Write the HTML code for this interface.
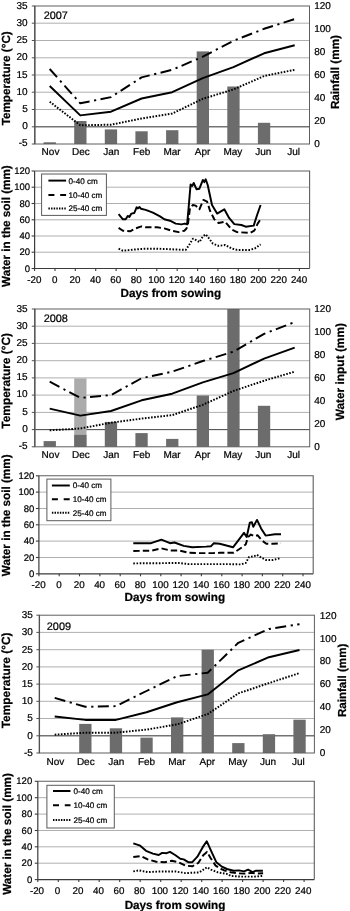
<!DOCTYPE html>
<html><head><meta charset="utf-8"><title>Figure</title>
<style>html,body{margin:0;padding:0;background:#fff}svg{display:block;filter:grayscale(1)}text{font-family:"Liberation Sans",sans-serif;fill:#000;text-rendering:geometricPrecision;stroke:#000;stroke-width:0.22px}</style>
</head><body>
<svg width="350" height="911" viewBox="0 0 350 911">
<rect width="350" height="911" fill="#fff"/>
<g id="p1">
<line x1="34.8" y1="23.2" x2="309.5" y2="23.2" stroke="#a0a0a0" stroke-width="0.85"/>
<line x1="34.8" y1="40.5" x2="309.5" y2="40.5" stroke="#a0a0a0" stroke-width="0.85"/>
<line x1="34.8" y1="57.8" x2="309.5" y2="57.8" stroke="#a0a0a0" stroke-width="0.85"/>
<line x1="34.8" y1="75.0" x2="309.5" y2="75.0" stroke="#a0a0a0" stroke-width="0.85"/>
<line x1="34.8" y1="92.2" x2="309.5" y2="92.2" stroke="#a0a0a0" stroke-width="0.85"/>
<line x1="34.8" y1="109.5" x2="309.5" y2="109.5" stroke="#a0a0a0" stroke-width="0.85"/>
<line x1="34.8" y1="126.8" x2="309.5" y2="126.8" stroke="#a0a0a0" stroke-width="0.85"/>
<line x1="34.8" y1="126.8" x2="309.5" y2="126.8" stroke="#505050" stroke-width="1"/>
<rect x="43.6" y="142.3" width="12.3" height="1.7" fill="#6c6c6c"/>
<rect x="74.2" y="121.0" width="12.3" height="23.0" fill="#6c6c6c"/>
<rect x="104.8" y="129.4" width="12.3" height="14.6" fill="#6c6c6c"/>
<rect x="135.4" y="131.3" width="12.3" height="12.7" fill="#6c6c6c"/>
<rect x="166.1" y="130.2" width="12.3" height="13.8" fill="#6c6c6c"/>
<rect x="196.7" y="51.4" width="12.3" height="92.6" fill="#6c6c6c"/>
<rect x="227.3" y="86.5" width="12.3" height="57.5" fill="#6c6c6c"/>
<rect x="257.9" y="122.8" width="12.3" height="21.2" fill="#6c6c6c"/>
<rect x="34.8" y="6.0" width="274.7" height="138.0" fill="none" stroke="#5e5e5e" stroke-width="1"/>
<line x1="34.8" y1="6.0" x2="34.8" y2="144.0" stroke="#505050" stroke-width="1.3"/>
<line x1="31.8" y1="6.0" x2="34.8" y2="6.0" stroke="#505050" stroke-width="1"/>
<text x="27.7" y="9.1" text-anchor="end" font-size="10.0">35</text>
<line x1="31.8" y1="23.2" x2="34.8" y2="23.2" stroke="#505050" stroke-width="1"/>
<text x="27.7" y="26.2" text-anchor="end" font-size="10.0">30</text>
<line x1="31.8" y1="40.5" x2="34.8" y2="40.5" stroke="#505050" stroke-width="1"/>
<text x="27.7" y="43.3" text-anchor="end" font-size="10.0">25</text>
<line x1="31.8" y1="57.8" x2="34.8" y2="57.8" stroke="#505050" stroke-width="1"/>
<text x="27.7" y="60.4" text-anchor="end" font-size="10.0">20</text>
<line x1="31.8" y1="75.0" x2="34.8" y2="75.0" stroke="#505050" stroke-width="1"/>
<text x="27.7" y="77.5" text-anchor="end" font-size="10.0">15</text>
<line x1="31.8" y1="92.2" x2="34.8" y2="92.2" stroke="#505050" stroke-width="1"/>
<text x="27.7" y="94.6" text-anchor="end" font-size="10.0">10</text>
<line x1="31.8" y1="109.5" x2="34.8" y2="109.5" stroke="#505050" stroke-width="1"/>
<text x="27.7" y="111.7" text-anchor="end" font-size="10.0">5</text>
<line x1="31.8" y1="126.8" x2="34.8" y2="126.8" stroke="#505050" stroke-width="1"/>
<text x="27.7" y="128.8" text-anchor="end" font-size="10.0">0</text>
<line x1="31.8" y1="144.0" x2="34.8" y2="144.0" stroke="#505050" stroke-width="1"/>
<text x="27.7" y="145.9" text-anchor="end" font-size="10.0">-5</text>
<text x="314.2" y="9.2" font-size="10.0">120</text>
<text x="314.2" y="32.2" font-size="10.0">100</text>
<text x="314.2" y="55.2" font-size="10.0">80</text>
<text x="314.2" y="78.2" font-size="10.0">60</text>
<text x="314.2" y="101.2" font-size="10.0">40</text>
<text x="314.2" y="124.2" font-size="10.0">20</text>
<text x="314.2" y="147.2" font-size="10.0">0</text>
<text x="50.5" y="155.3" text-anchor="middle" font-size="10.0">Nov</text>
<text x="80.9" y="155.3" text-anchor="middle" font-size="10.0">Dec</text>
<text x="111.3" y="155.3" text-anchor="middle" font-size="10.0">Jan</text>
<text x="141.7" y="155.3" text-anchor="middle" font-size="10.0">Feb</text>
<text x="172.1" y="155.3" text-anchor="middle" font-size="10.0">Mar</text>
<text x="202.5" y="155.3" text-anchor="middle" font-size="10.0">Apr</text>
<text x="232.9" y="155.3" text-anchor="middle" font-size="10.0">May</text>
<text x="263.3" y="155.3" text-anchor="middle" font-size="10.0">Jun</text>
<text x="293.7" y="155.3" text-anchor="middle" font-size="10.0">Jul</text>
<text x="43.7" y="19.0" font-size="10.9">2007</text>
<polyline points="49.7,69.0 80.3,103.3 111.0,97.1 141.6,77.4 172.2,69.8 202.8,56.7 233.4,40.8 264.1,28.8 294.7,19.1" fill="none" stroke="#000" stroke-width="1.95" stroke-dasharray="11,4.6,2.2,4.4" stroke-linejoin="round"/>
<polyline points="49.7,86.0 80.3,115.4 111.0,111.7 141.6,98.5 172.2,92.2 202.8,78.1 233.4,67.1 264.1,53.3 294.7,45.3" fill="none" stroke="#000" stroke-width="1.95" stroke-linejoin="round"/>
<polyline points="49.7,101.7 80.3,125.3 111.0,124.7 141.6,118.5 172.2,113.6 202.8,98.8 233.4,89.5 264.1,76.0 294.7,69.8" fill="none" stroke="#000" stroke-width="1.95" stroke-dasharray="1.6,1.5" stroke-linejoin="round"/>
<text transform="translate(9.5,78.3) rotate(-90)" text-anchor="middle" font-size="11.7" font-weight="bold">Temperature (°C)</text>
<text transform="translate(338.8,72.1) rotate(-90)" text-anchor="middle" font-size="11.7" font-weight="bold">Rainfall (mm)</text>
</g><g id="p2">
<line x1="34.6" y1="187.2" x2="309.6" y2="187.2" stroke="#a0a0a0" stroke-width="0.85"/>
<line x1="34.6" y1="203.5" x2="309.6" y2="203.5" stroke="#a0a0a0" stroke-width="0.85"/>
<line x1="34.6" y1="219.8" x2="309.6" y2="219.8" stroke="#a0a0a0" stroke-width="0.85"/>
<line x1="34.6" y1="236.0" x2="309.6" y2="236.0" stroke="#a0a0a0" stroke-width="0.85"/>
<line x1="34.6" y1="252.2" x2="309.6" y2="252.2" stroke="#a0a0a0" stroke-width="0.85"/>
<polyline points="34.6,171.0 309.6,171.0 309.6,268.5" fill="none" stroke="#5e5e5e" stroke-width="1.1"/>
<polyline points="34.6,171.0 34.6,268.5 309.6,268.5" fill="none" stroke="#3c3c3c" stroke-width="1.2"/>
<line x1="31.6" y1="171.0" x2="34.6" y2="171.0" stroke="#3c3c3c" stroke-width="1.1"/>
<text x="30.0" y="174.0" text-anchor="end" font-size="9.5">120</text>
<line x1="31.6" y1="187.2" x2="34.6" y2="187.2" stroke="#3c3c3c" stroke-width="1.1"/>
<text x="30.0" y="190.2" text-anchor="end" font-size="9.5">100</text>
<line x1="31.6" y1="203.5" x2="34.6" y2="203.5" stroke="#3c3c3c" stroke-width="1.1"/>
<text x="30.0" y="206.5" text-anchor="end" font-size="9.5">80</text>
<line x1="31.6" y1="219.8" x2="34.6" y2="219.8" stroke="#3c3c3c" stroke-width="1.1"/>
<text x="30.0" y="222.8" text-anchor="end" font-size="9.5">60</text>
<line x1="31.6" y1="236.0" x2="34.6" y2="236.0" stroke="#3c3c3c" stroke-width="1.1"/>
<text x="30.0" y="239.0" text-anchor="end" font-size="9.5">40</text>
<line x1="31.6" y1="252.2" x2="34.6" y2="252.2" stroke="#3c3c3c" stroke-width="1.1"/>
<text x="30.0" y="255.2" text-anchor="end" font-size="9.5">20</text>
<line x1="31.6" y1="268.5" x2="34.6" y2="268.5" stroke="#3c3c3c" stroke-width="1.1"/>
<text x="30.0" y="271.5" text-anchor="end" font-size="9.5">0</text>
<line x1="34.6" y1="268.5" x2="34.6" y2="271.0" stroke="#3c3c3c" stroke-width="1.1"/>
<text x="34.3" y="282.8" text-anchor="middle" font-size="9.8">-20</text>
<line x1="55.0" y1="268.5" x2="55.0" y2="271.0" stroke="#3c3c3c" stroke-width="1.1"/>
<text x="54.7" y="282.8" text-anchor="middle" font-size="9.8">0</text>
<line x1="75.3" y1="268.5" x2="75.3" y2="271.0" stroke="#3c3c3c" stroke-width="1.1"/>
<text x="75.0" y="282.8" text-anchor="middle" font-size="9.8">20</text>
<line x1="95.7" y1="268.5" x2="95.7" y2="271.0" stroke="#3c3c3c" stroke-width="1.1"/>
<text x="95.4" y="282.8" text-anchor="middle" font-size="9.8">40</text>
<line x1="116.1" y1="268.5" x2="116.1" y2="271.0" stroke="#3c3c3c" stroke-width="1.1"/>
<text x="115.8" y="282.8" text-anchor="middle" font-size="9.8">60</text>
<line x1="136.5" y1="268.5" x2="136.5" y2="271.0" stroke="#3c3c3c" stroke-width="1.1"/>
<text x="136.2" y="282.8" text-anchor="middle" font-size="9.8">80</text>
<line x1="156.8" y1="268.5" x2="156.8" y2="271.0" stroke="#3c3c3c" stroke-width="1.1"/>
<text x="156.5" y="282.8" text-anchor="middle" font-size="9.8">100</text>
<line x1="177.2" y1="268.5" x2="177.2" y2="271.0" stroke="#3c3c3c" stroke-width="1.1"/>
<text x="176.9" y="282.8" text-anchor="middle" font-size="9.8">120</text>
<line x1="197.6" y1="268.5" x2="197.6" y2="271.0" stroke="#3c3c3c" stroke-width="1.1"/>
<text x="197.3" y="282.8" text-anchor="middle" font-size="9.8">140</text>
<line x1="217.9" y1="268.5" x2="217.9" y2="271.0" stroke="#3c3c3c" stroke-width="1.1"/>
<text x="217.6" y="282.8" text-anchor="middle" font-size="9.8">160</text>
<line x1="238.3" y1="268.5" x2="238.3" y2="271.0" stroke="#3c3c3c" stroke-width="1.1"/>
<text x="238.0" y="282.8" text-anchor="middle" font-size="9.8">180</text>
<line x1="258.7" y1="268.5" x2="258.7" y2="271.0" stroke="#3c3c3c" stroke-width="1.1"/>
<text x="258.4" y="282.8" text-anchor="middle" font-size="9.8">200</text>
<line x1="279.0" y1="268.5" x2="279.0" y2="271.0" stroke="#3c3c3c" stroke-width="1.1"/>
<text x="278.7" y="282.8" text-anchor="middle" font-size="9.8">220</text>
<line x1="299.4" y1="268.5" x2="299.4" y2="271.0" stroke="#3c3c3c" stroke-width="1.1"/>
<text x="299.1" y="282.8" text-anchor="middle" font-size="9.8">240</text>
<polyline points="118.6,214.1 122.9,219.3 125.7,219.3 127.7,215.9 129.4,217.0 131.4,213.6 134.3,213.0 136.6,207.3 138.0,208.4 139.4,207.0 140.9,208.7 145.7,209.9 152.9,212.7 160.0,216.4 164.3,219.3 170.0,220.7 175.7,223.6 181.4,224.4 184.9,223.6 187.1,224.4 188.6,207.9 190.6,184.4 192.3,185.9 193.7,183.0 196.6,189.3 199.4,188.7 202.9,179.9 204.3,182.1 205.7,179.3 207.7,185.0 212.0,205.0 217.1,213.6 224.3,209.3 229.1,217.9 234.3,224.1 241.4,225.0 245.7,226.7 253.7,225.6 257.1,215.0 260.6,205.0" fill="none" stroke="#000" stroke-width="1.95" stroke-linejoin="round"/>
<polyline points="118.6,227.9 122.9,230.7 130.0,231.3 135.7,228.4 141.4,226.4 145.7,227.3 157.1,227.3 164.3,228.4 171.4,230.7 178.6,232.1 184.3,230.7 186.5,228.5 188.0,223.6 190.0,207.9 192.9,205.0 195.7,205.6 199.4,209.3 203.4,199.9 207.1,201.6 210.0,210.7 214.3,219.3 218.6,223.0 225.1,221.6 231.4,229.3 237.1,232.1 250.0,233.0 254.3,230.7 257.7,223.6 260.6,219.3" fill="none" stroke="#000" stroke-width="1.95" stroke-dasharray="6.4,3.1" stroke-linejoin="round"/>
<polyline points="118.6,248.7 122.9,250.7 128.6,250.1 137.1,249.3 145.7,248.7 157.1,248.7 171.4,249.3 185.7,249.9 189.1,245.0 192.9,238.7 195.7,239.9 199.4,242.1 202.9,236.4 205.7,234.4 208.6,237.9 212.9,243.6 218.6,245.9 225.1,245.0 231.4,248.4 237.1,249.9 250.0,249.9 254.9,248.4 260.6,244.4" fill="none" stroke="#000" stroke-width="1.95" stroke-dasharray="1.6,1.6" stroke-linejoin="round"/>
<rect x="41.6" y="174.0" width="64.8" height="41.4" fill="#fff" stroke="#5a5a5a" stroke-width="1"/>
<line x1="48.4" y1="180.6" x2="66.1" y2="180.6" stroke="#000" stroke-width="1.95"/>
<text x="68.6" y="183.5" font-size="8.1">0-40 cm</text>
<line x1="48.4" y1="195.0" x2="66.1" y2="195.0" stroke="#000" stroke-width="1.95" stroke-dasharray="6,5.8"/>
<text x="68.6" y="197.9" font-size="8.1">10-40 cm</text>
<line x1="48.4" y1="208.4" x2="66.1" y2="208.4" stroke="#000" stroke-width="1.95" stroke-dasharray="1.45,1.2"/>
<text x="68.6" y="211.3" font-size="8.1">25-40 cm</text>
<text transform="translate(10.2,226.1) rotate(-90)" text-anchor="middle" font-size="11.7" font-weight="bold">Water in the soil (mm)</text>
<text x="170.8" y="296.8" text-anchor="middle" font-size="11.7" font-weight="bold">Days from sowing</text>
</g><g id="p3">
<line x1="34.8" y1="326.2" x2="309.7" y2="326.2" stroke="#a0a0a0" stroke-width="0.85"/>
<line x1="34.8" y1="343.4" x2="309.7" y2="343.4" stroke="#a0a0a0" stroke-width="0.85"/>
<line x1="34.8" y1="360.7" x2="309.7" y2="360.7" stroke="#a0a0a0" stroke-width="0.85"/>
<line x1="34.8" y1="377.9" x2="309.7" y2="377.9" stroke="#a0a0a0" stroke-width="0.85"/>
<line x1="34.8" y1="395.1" x2="309.7" y2="395.1" stroke="#a0a0a0" stroke-width="0.85"/>
<line x1="34.8" y1="412.4" x2="309.7" y2="412.4" stroke="#a0a0a0" stroke-width="0.85"/>
<line x1="34.8" y1="429.6" x2="309.7" y2="429.6" stroke="#a0a0a0" stroke-width="0.85"/>
<line x1="34.8" y1="429.6" x2="309.7" y2="429.6" stroke="#505050" stroke-width="1"/>
<rect x="74.2" y="378.4" width="12.3" height="68.4" fill="#ababab"/>
<rect x="43.6" y="441.1" width="12.3" height="5.7" fill="#6c6c6c"/>
<rect x="74.2" y="434.9" width="12.3" height="11.9" fill="#6c6c6c"/>
<rect x="104.8" y="421.9" width="12.3" height="24.9" fill="#6c6c6c"/>
<rect x="135.4" y="433.1" width="12.3" height="13.7" fill="#6c6c6c"/>
<rect x="166.1" y="438.9" width="12.3" height="7.9" fill="#6c6c6c"/>
<rect x="196.7" y="395.5" width="12.3" height="51.3" fill="#6c6c6c"/>
<rect x="227.3" y="309.0" width="12.3" height="137.8" fill="#6c6c6c"/>
<rect x="257.9" y="405.8" width="12.3" height="41.0" fill="#6c6c6c"/>
<rect x="34.8" y="309.0" width="274.9" height="137.8" fill="none" stroke="#5e5e5e" stroke-width="1"/>
<line x1="34.8" y1="309.0" x2="34.8" y2="446.8" stroke="#505050" stroke-width="1.3"/>
<line x1="31.8" y1="309.0" x2="34.8" y2="309.0" stroke="#505050" stroke-width="1"/>
<text x="27.7" y="311.7" text-anchor="end" font-size="10.0">35</text>
<line x1="31.8" y1="326.2" x2="34.8" y2="326.2" stroke="#505050" stroke-width="1"/>
<text x="27.7" y="328.8" text-anchor="end" font-size="10.0">30</text>
<line x1="31.8" y1="343.4" x2="34.8" y2="343.4" stroke="#505050" stroke-width="1"/>
<text x="27.7" y="346.0" text-anchor="end" font-size="10.0">25</text>
<line x1="31.8" y1="360.7" x2="34.8" y2="360.7" stroke="#505050" stroke-width="1"/>
<text x="27.7" y="363.1" text-anchor="end" font-size="10.0">20</text>
<line x1="31.8" y1="377.9" x2="34.8" y2="377.9" stroke="#505050" stroke-width="1"/>
<text x="27.7" y="380.2" text-anchor="end" font-size="10.0">15</text>
<line x1="31.8" y1="395.1" x2="34.8" y2="395.1" stroke="#505050" stroke-width="1"/>
<text x="27.7" y="397.3" text-anchor="end" font-size="10.0">10</text>
<line x1="31.8" y1="412.4" x2="34.8" y2="412.4" stroke="#505050" stroke-width="1"/>
<text x="27.7" y="414.5" text-anchor="end" font-size="10.0">5</text>
<line x1="31.8" y1="429.6" x2="34.8" y2="429.6" stroke="#505050" stroke-width="1"/>
<text x="27.7" y="431.6" text-anchor="end" font-size="10.0">0</text>
<line x1="31.8" y1="446.8" x2="34.8" y2="446.8" stroke="#505050" stroke-width="1"/>
<text x="27.7" y="448.7" text-anchor="end" font-size="10.0">-5</text>
<text x="314.3" y="312.2" font-size="10.0">120</text>
<text x="314.3" y="335.2" font-size="10.0">100</text>
<text x="314.3" y="358.1" font-size="10.0">80</text>
<text x="314.3" y="381.1" font-size="10.0">60</text>
<text x="314.3" y="404.1" font-size="10.0">40</text>
<text x="314.3" y="427.0" font-size="10.0">20</text>
<text x="314.3" y="450.0" font-size="10.0">0</text>
<text x="50.5" y="457.9" text-anchor="middle" font-size="10.0">Nov</text>
<text x="80.9" y="457.9" text-anchor="middle" font-size="10.0">Dec</text>
<text x="111.3" y="457.9" text-anchor="middle" font-size="10.0">Jan</text>
<text x="141.7" y="457.9" text-anchor="middle" font-size="10.0">Feb</text>
<text x="172.1" y="457.9" text-anchor="middle" font-size="10.0">Mar</text>
<text x="202.5" y="457.9" text-anchor="middle" font-size="10.0">Apr</text>
<text x="232.9" y="457.9" text-anchor="middle" font-size="10.0">May</text>
<text x="263.3" y="457.9" text-anchor="middle" font-size="10.0">Jun</text>
<text x="293.7" y="457.9" text-anchor="middle" font-size="10.0">Jul</text>
<text x="43.7" y="322.0" font-size="10.9">2008</text>
<polyline points="49.7,381.7 80.3,397.9 111.0,395.1 141.6,378.2 172.2,371.7 202.8,361.0 233.4,351.7 264.1,333.8 294.7,322.1" fill="none" stroke="#000" stroke-width="1.95" stroke-dasharray="11,4.6,2.2,4.4" stroke-linejoin="round"/>
<polyline points="49.7,408.6 80.3,415.6 111.0,411.0 141.6,400.3 172.2,393.7 202.8,382.4 233.4,373.1 264.1,358.6 294.7,347.6" fill="none" stroke="#000" stroke-width="1.95" stroke-linejoin="round"/>
<polyline points="49.7,430.3 80.3,428.5 111.0,422.7 141.6,418.6 172.2,415.1 202.8,404.8 233.4,391.0 264.1,380.7 294.7,371.7" fill="none" stroke="#000" stroke-width="1.95" stroke-dasharray="1.6,1.5" stroke-linejoin="round"/>
<text transform="translate(9.5,380.8) rotate(-90)" text-anchor="middle" font-size="11.9" font-weight="bold">Temperature (°C)</text>
<text transform="translate(343.8,371.7) rotate(-90)" text-anchor="middle" font-size="11.9" font-weight="bold">Water input (mm)</text>
</g><g id="p4">
<line x1="38.9" y1="492.1" x2="313.2" y2="492.1" stroke="#a0a0a0" stroke-width="0.85"/>
<line x1="38.9" y1="508.5" x2="313.2" y2="508.5" stroke="#a0a0a0" stroke-width="0.85"/>
<line x1="38.9" y1="524.8" x2="313.2" y2="524.8" stroke="#a0a0a0" stroke-width="0.85"/>
<line x1="38.9" y1="541.1" x2="313.2" y2="541.1" stroke="#a0a0a0" stroke-width="0.85"/>
<line x1="38.9" y1="557.5" x2="313.2" y2="557.5" stroke="#a0a0a0" stroke-width="0.85"/>
<polyline points="38.9,475.8 313.2,475.8 313.2,573.8" fill="none" stroke="#5e5e5e" stroke-width="1.1"/>
<polyline points="38.9,475.8 38.9,573.8 313.2,573.8" fill="none" stroke="#3c3c3c" stroke-width="1.2"/>
<line x1="35.9" y1="475.8" x2="38.9" y2="475.8" stroke="#3c3c3c" stroke-width="1.1"/>
<text x="34.3" y="478.8" text-anchor="end" font-size="9.5">120</text>
<line x1="35.9" y1="492.1" x2="38.9" y2="492.1" stroke="#3c3c3c" stroke-width="1.1"/>
<text x="34.3" y="495.1" text-anchor="end" font-size="9.5">100</text>
<line x1="35.9" y1="508.5" x2="38.9" y2="508.5" stroke="#3c3c3c" stroke-width="1.1"/>
<text x="34.3" y="511.5" text-anchor="end" font-size="9.5">80</text>
<line x1="35.9" y1="524.8" x2="38.9" y2="524.8" stroke="#3c3c3c" stroke-width="1.1"/>
<text x="34.3" y="527.8" text-anchor="end" font-size="9.5">60</text>
<line x1="35.9" y1="541.1" x2="38.9" y2="541.1" stroke="#3c3c3c" stroke-width="1.1"/>
<text x="34.3" y="544.1" text-anchor="end" font-size="9.5">40</text>
<line x1="35.9" y1="557.5" x2="38.9" y2="557.5" stroke="#3c3c3c" stroke-width="1.1"/>
<text x="34.3" y="560.5" text-anchor="end" font-size="9.5">20</text>
<line x1="35.9" y1="573.8" x2="38.9" y2="573.8" stroke="#3c3c3c" stroke-width="1.1"/>
<text x="34.3" y="576.8" text-anchor="end" font-size="9.5">0</text>
<line x1="38.9" y1="573.8" x2="38.9" y2="576.3" stroke="#3c3c3c" stroke-width="1.1"/>
<text x="38.6" y="588.1" text-anchor="middle" font-size="9.8">-20</text>
<line x1="59.2" y1="573.8" x2="59.2" y2="576.3" stroke="#3c3c3c" stroke-width="1.1"/>
<text x="58.9" y="588.1" text-anchor="middle" font-size="9.8">0</text>
<line x1="79.5" y1="573.8" x2="79.5" y2="576.3" stroke="#3c3c3c" stroke-width="1.1"/>
<text x="79.2" y="588.1" text-anchor="middle" font-size="9.8">20</text>
<line x1="99.9" y1="573.8" x2="99.9" y2="576.3" stroke="#3c3c3c" stroke-width="1.1"/>
<text x="99.6" y="588.1" text-anchor="middle" font-size="9.8">40</text>
<line x1="120.2" y1="573.8" x2="120.2" y2="576.3" stroke="#3c3c3c" stroke-width="1.1"/>
<text x="119.9" y="588.1" text-anchor="middle" font-size="9.8">60</text>
<line x1="140.5" y1="573.8" x2="140.5" y2="576.3" stroke="#3c3c3c" stroke-width="1.1"/>
<text x="140.2" y="588.1" text-anchor="middle" font-size="9.8">80</text>
<line x1="160.8" y1="573.8" x2="160.8" y2="576.3" stroke="#3c3c3c" stroke-width="1.1"/>
<text x="160.5" y="588.1" text-anchor="middle" font-size="9.8">100</text>
<line x1="181.1" y1="573.8" x2="181.1" y2="576.3" stroke="#3c3c3c" stroke-width="1.1"/>
<text x="180.8" y="588.1" text-anchor="middle" font-size="9.8">120</text>
<line x1="201.4" y1="573.8" x2="201.4" y2="576.3" stroke="#3c3c3c" stroke-width="1.1"/>
<text x="201.1" y="588.1" text-anchor="middle" font-size="9.8">140</text>
<line x1="221.8" y1="573.8" x2="221.8" y2="576.3" stroke="#3c3c3c" stroke-width="1.1"/>
<text x="221.5" y="588.1" text-anchor="middle" font-size="9.8">160</text>
<line x1="242.1" y1="573.8" x2="242.1" y2="576.3" stroke="#3c3c3c" stroke-width="1.1"/>
<text x="241.8" y="588.1" text-anchor="middle" font-size="9.8">180</text>
<line x1="262.4" y1="573.8" x2="262.4" y2="576.3" stroke="#3c3c3c" stroke-width="1.1"/>
<text x="262.1" y="588.1" text-anchor="middle" font-size="9.8">200</text>
<line x1="282.7" y1="573.8" x2="282.7" y2="576.3" stroke="#3c3c3c" stroke-width="1.1"/>
<text x="282.4" y="588.1" text-anchor="middle" font-size="9.8">220</text>
<line x1="303.0" y1="573.8" x2="303.0" y2="576.3" stroke="#3c3c3c" stroke-width="1.1"/>
<text x="302.7" y="588.1" text-anchor="middle" font-size="9.8">240</text>
<polyline points="133.3,543.2 151.1,543.2 161.4,539.7 170.0,543.2 174.5,542.5 183.7,545.9 192.3,547.3 206.0,546.6 211.1,546.2 213.9,543.2 219.7,543.8 233.0,547.3 238.9,539.7 244.0,532.9 246.7,537.0 249.8,522.6 251.9,522.3 253.3,526.7 257.0,519.9 261.1,528.4 265.6,535.6 274.9,534.3 281.0,534.3" fill="none" stroke="#000" stroke-width="1.95" stroke-linejoin="round"/>
<polyline points="133.3,551.0 151.1,550.7 161.4,548.3 170.0,550.4 178.6,550.4 188.9,552.8 199.1,553.1 212.8,553.1 220.0,552.8 233.7,552.8 240.6,548.3 245.7,544.5 248.1,537.0 250.9,534.6 254.3,536.3 257.7,535.3 261.8,540.4 266.3,543.8 273.1,543.8 281.0,543.2" fill="none" stroke="#000" stroke-width="1.95" stroke-dasharray="6.4,3.1" stroke-linejoin="round"/>
<polyline points="133.3,563.4 178.6,563.0 188.9,564.1 228.3,564.1 240.6,564.4 245.7,563.0 249.1,556.9 254.3,556.2 257.0,554.8 261.1,557.6 266.3,560.0 273.1,560.0 280.0,558.2" fill="none" stroke="#000" stroke-width="1.95" stroke-dasharray="1.6,1.6" stroke-linejoin="round"/>
<rect x="46.9" y="479.1" width="64.0" height="41.6" fill="#fff" stroke="#5a5a5a" stroke-width="1"/>
<line x1="51.9" y1="485.5" x2="69.8" y2="485.5" stroke="#000" stroke-width="1.95"/>
<text x="72.7" y="488.4" font-size="8.1">0-40 cm</text>
<line x1="51.9" y1="499.3" x2="69.8" y2="499.3" stroke="#000" stroke-width="1.95" stroke-dasharray="6,5.8"/>
<text x="72.7" y="502.2" font-size="8.1">10-40 cm</text>
<line x1="51.9" y1="512.7" x2="69.8" y2="512.7" stroke="#000" stroke-width="1.95" stroke-dasharray="1.45,1.2"/>
<text x="72.7" y="515.6" font-size="8.1">25-40 cm</text>
<text transform="translate(10.1,515.3) rotate(-90)" text-anchor="middle" font-size="11.7" font-weight="bold">Water in the soil (mm)</text>
<text x="174.8" y="601.0" text-anchor="middle" font-size="11.7" font-weight="bold">Days from sowing</text>
</g><g id="p5">
<line x1="39.4" y1="632.4" x2="314.4" y2="632.4" stroke="#a0a0a0" stroke-width="0.85"/>
<line x1="39.4" y1="649.7" x2="314.4" y2="649.7" stroke="#a0a0a0" stroke-width="0.85"/>
<line x1="39.4" y1="666.9" x2="314.4" y2="666.9" stroke="#a0a0a0" stroke-width="0.85"/>
<line x1="39.4" y1="684.1" x2="314.4" y2="684.1" stroke="#a0a0a0" stroke-width="0.85"/>
<line x1="39.4" y1="701.3" x2="314.4" y2="701.3" stroke="#a0a0a0" stroke-width="0.85"/>
<line x1="39.4" y1="718.5" x2="314.4" y2="718.5" stroke="#a0a0a0" stroke-width="0.85"/>
<line x1="39.4" y1="735.8" x2="314.4" y2="735.8" stroke="#a0a0a0" stroke-width="0.85"/>
<line x1="39.4" y1="735.8" x2="314.4" y2="735.8" stroke="#505050" stroke-width="1"/>
<rect x="79.2" y="723.9" width="12.3" height="29.1" fill="#6c6c6c"/>
<rect x="109.8" y="728.3" width="12.3" height="24.7" fill="#6c6c6c"/>
<rect x="140.4" y="737.6" width="12.3" height="15.4" fill="#6c6c6c"/>
<rect x="171.0" y="717.4" width="12.3" height="35.6" fill="#6c6c6c"/>
<rect x="201.6" y="649.7" width="12.3" height="103.3" fill="#6c6c6c"/>
<rect x="232.2" y="743.1" width="12.3" height="9.9" fill="#6c6c6c"/>
<rect x="262.8" y="734.2" width="12.3" height="18.8" fill="#6c6c6c"/>
<rect x="293.4" y="719.7" width="12.3" height="33.3" fill="#6c6c6c"/>
<rect x="39.4" y="615.2" width="275.0" height="137.8" fill="none" stroke="#5e5e5e" stroke-width="1"/>
<line x1="39.4" y1="615.2" x2="39.4" y2="753.0" stroke="#505050" stroke-width="1.3"/>
<line x1="36.4" y1="615.2" x2="39.4" y2="615.2" stroke="#505050" stroke-width="1"/>
<text x="32.8" y="618.1" text-anchor="end" font-size="10.0">35</text>
<line x1="36.4" y1="632.4" x2="39.4" y2="632.4" stroke="#505050" stroke-width="1"/>
<text x="32.8" y="635.3" text-anchor="end" font-size="10.0">30</text>
<line x1="36.4" y1="649.7" x2="39.4" y2="649.7" stroke="#505050" stroke-width="1"/>
<text x="32.8" y="652.6" text-anchor="end" font-size="10.0">25</text>
<line x1="36.4" y1="666.9" x2="39.4" y2="666.9" stroke="#505050" stroke-width="1"/>
<text x="32.8" y="669.8" text-anchor="end" font-size="10.0">20</text>
<line x1="36.4" y1="684.1" x2="39.4" y2="684.1" stroke="#505050" stroke-width="1"/>
<text x="32.8" y="687.0" text-anchor="end" font-size="10.0">15</text>
<line x1="36.4" y1="701.3" x2="39.4" y2="701.3" stroke="#505050" stroke-width="1"/>
<text x="32.8" y="704.2" text-anchor="end" font-size="10.0">10</text>
<line x1="36.4" y1="718.5" x2="39.4" y2="718.5" stroke="#505050" stroke-width="1"/>
<text x="32.8" y="721.4" text-anchor="end" font-size="10.0">5</text>
<line x1="36.4" y1="735.8" x2="39.4" y2="735.8" stroke="#505050" stroke-width="1"/>
<text x="32.8" y="738.7" text-anchor="end" font-size="10.0">0</text>
<line x1="36.4" y1="753.0" x2="39.4" y2="753.0" stroke="#505050" stroke-width="1"/>
<text x="32.8" y="755.9" text-anchor="end" font-size="10.0">-5</text>
<text x="319.8" y="618.5" font-size="10.0">120</text>
<text x="319.8" y="641.5" font-size="10.0">100</text>
<text x="319.8" y="664.4" font-size="10.0">80</text>
<text x="319.8" y="687.4" font-size="10.0">60</text>
<text x="319.8" y="710.4" font-size="10.0">40</text>
<text x="319.8" y="733.3" font-size="10.0">20</text>
<text x="319.8" y="756.3" font-size="10.0">0</text>
<text x="55.4" y="764.6" text-anchor="middle" font-size="10.0">Nov</text>
<text x="85.8" y="764.6" text-anchor="middle" font-size="10.0">Dec</text>
<text x="116.2" y="764.6" text-anchor="middle" font-size="10.0">Jan</text>
<text x="146.5" y="764.6" text-anchor="middle" font-size="10.0">Feb</text>
<text x="176.9" y="764.6" text-anchor="middle" font-size="10.0">Mar</text>
<text x="207.3" y="764.6" text-anchor="middle" font-size="10.0">Apr</text>
<text x="237.7" y="764.6" text-anchor="middle" font-size="10.0">May</text>
<text x="268.1" y="764.6" text-anchor="middle" font-size="10.0">Jun</text>
<text x="298.4" y="764.6" text-anchor="middle" font-size="10.0">Jul</text>
<text x="46.8" y="630.0" font-size="10.9">2009</text>
<polyline points="54.7,697.9 85.3,706.8 115.9,706.1 146.5,691.0 177.1,676.2 207.7,672.7 238.3,642.8 268.9,629.0 299.5,624.2" fill="none" stroke="#000" stroke-width="1.95" stroke-dasharray="11,4.6,2.2,4.4" stroke-linejoin="round"/>
<polyline points="54.7,716.5 85.3,719.9 115.9,719.9 146.5,712.3 177.1,702.2 207.7,694.4 238.3,670.3 268.9,657.2 299.5,650.0" fill="none" stroke="#000" stroke-width="1.95" stroke-linejoin="round"/>
<polyline points="54.7,734.7 85.3,732.7 115.9,732.7 146.5,729.6 177.1,724.4 207.7,714.1 238.3,693.4 268.9,683.1 299.5,673.1" fill="none" stroke="#000" stroke-width="1.95" stroke-dasharray="1.6,1.5" stroke-linejoin="round"/>
<text transform="translate(9.5,680.4) rotate(-90)" text-anchor="middle" font-size="11.9" font-weight="bold">Temperature (°C)</text>
<text transform="translate(346.2,680.4) rotate(-90)" text-anchor="middle" font-size="11.6" font-weight="bold">Rainfall (mm)</text>
</g><g id="p6">
<line x1="37.8" y1="797.7" x2="314.3" y2="797.7" stroke="#a0a0a0" stroke-width="0.85"/>
<line x1="37.8" y1="814.1" x2="314.3" y2="814.1" stroke="#a0a0a0" stroke-width="0.85"/>
<line x1="37.8" y1="830.5" x2="314.3" y2="830.5" stroke="#a0a0a0" stroke-width="0.85"/>
<line x1="37.8" y1="846.8" x2="314.3" y2="846.8" stroke="#a0a0a0" stroke-width="0.85"/>
<line x1="37.8" y1="863.2" x2="314.3" y2="863.2" stroke="#a0a0a0" stroke-width="0.85"/>
<polyline points="37.8,781.3 314.3,781.3 314.3,879.6" fill="none" stroke="#5e5e5e" stroke-width="1.1"/>
<polyline points="37.8,781.3 37.8,879.6 314.3,879.6" fill="none" stroke="#3c3c3c" stroke-width="1.2"/>
<line x1="34.8" y1="781.3" x2="37.8" y2="781.3" stroke="#3c3c3c" stroke-width="1.1"/>
<text x="32.2" y="784.3" text-anchor="end" font-size="9.5">120</text>
<line x1="34.8" y1="797.7" x2="37.8" y2="797.7" stroke="#3c3c3c" stroke-width="1.1"/>
<text x="32.2" y="800.7" text-anchor="end" font-size="9.5">100</text>
<line x1="34.8" y1="814.1" x2="37.8" y2="814.1" stroke="#3c3c3c" stroke-width="1.1"/>
<text x="32.2" y="817.1" text-anchor="end" font-size="9.5">80</text>
<line x1="34.8" y1="830.5" x2="37.8" y2="830.5" stroke="#3c3c3c" stroke-width="1.1"/>
<text x="32.2" y="833.5" text-anchor="end" font-size="9.5">60</text>
<line x1="34.8" y1="846.8" x2="37.8" y2="846.8" stroke="#3c3c3c" stroke-width="1.1"/>
<text x="32.2" y="849.8" text-anchor="end" font-size="9.5">40</text>
<line x1="34.8" y1="863.2" x2="37.8" y2="863.2" stroke="#3c3c3c" stroke-width="1.1"/>
<text x="32.2" y="866.2" text-anchor="end" font-size="9.5">20</text>
<line x1="34.8" y1="879.6" x2="37.8" y2="879.6" stroke="#3c3c3c" stroke-width="1.1"/>
<text x="32.2" y="882.6" text-anchor="end" font-size="9.5">0</text>
<line x1="37.8" y1="879.6" x2="37.8" y2="882.1" stroke="#3c3c3c" stroke-width="1.1"/>
<text x="37.0" y="893.8" text-anchor="middle" font-size="9.8">-20</text>
<line x1="58.3" y1="879.6" x2="58.3" y2="882.1" stroke="#3c3c3c" stroke-width="1.1"/>
<text x="57.5" y="893.8" text-anchor="middle" font-size="9.8">0</text>
<line x1="78.8" y1="879.6" x2="78.8" y2="882.1" stroke="#3c3c3c" stroke-width="1.1"/>
<text x="78.0" y="893.8" text-anchor="middle" font-size="9.8">20</text>
<line x1="99.2" y1="879.6" x2="99.2" y2="882.1" stroke="#3c3c3c" stroke-width="1.1"/>
<text x="98.4" y="893.8" text-anchor="middle" font-size="9.8">40</text>
<line x1="119.7" y1="879.6" x2="119.7" y2="882.1" stroke="#3c3c3c" stroke-width="1.1"/>
<text x="118.9" y="893.8" text-anchor="middle" font-size="9.8">60</text>
<line x1="140.2" y1="879.6" x2="140.2" y2="882.1" stroke="#3c3c3c" stroke-width="1.1"/>
<text x="139.4" y="893.8" text-anchor="middle" font-size="9.8">80</text>
<line x1="160.7" y1="879.6" x2="160.7" y2="882.1" stroke="#3c3c3c" stroke-width="1.1"/>
<text x="159.9" y="893.8" text-anchor="middle" font-size="9.8">100</text>
<line x1="181.2" y1="879.6" x2="181.2" y2="882.1" stroke="#3c3c3c" stroke-width="1.1"/>
<text x="180.4" y="893.8" text-anchor="middle" font-size="9.8">120</text>
<line x1="201.7" y1="879.6" x2="201.7" y2="882.1" stroke="#3c3c3c" stroke-width="1.1"/>
<text x="200.9" y="893.8" text-anchor="middle" font-size="9.8">140</text>
<line x1="222.1" y1="879.6" x2="222.1" y2="882.1" stroke="#3c3c3c" stroke-width="1.1"/>
<text x="221.3" y="893.8" text-anchor="middle" font-size="9.8">160</text>
<line x1="242.6" y1="879.6" x2="242.6" y2="882.1" stroke="#3c3c3c" stroke-width="1.1"/>
<text x="241.8" y="893.8" text-anchor="middle" font-size="9.8">180</text>
<line x1="263.1" y1="879.6" x2="263.1" y2="882.1" stroke="#3c3c3c" stroke-width="1.1"/>
<text x="262.3" y="893.8" text-anchor="middle" font-size="9.8">200</text>
<line x1="283.6" y1="879.6" x2="283.6" y2="882.1" stroke="#3c3c3c" stroke-width="1.1"/>
<text x="282.8" y="893.8" text-anchor="middle" font-size="9.8">220</text>
<line x1="304.1" y1="879.6" x2="304.1" y2="882.1" stroke="#3c3c3c" stroke-width="1.1"/>
<text x="303.3" y="893.8" text-anchor="middle" font-size="9.8">240</text>
<polyline points="133.3,843.3 140.2,845.7 146.0,850.8 152.9,853.6 158.7,855.0 162.1,852.9 166.6,853.2 170.0,851.9 175.1,855.0 180.3,858.7 183.7,859.4 188.2,862.2 192.3,862.2 197.4,856.7 202.6,847.4 206.7,841.2 211.1,850.8 216.3,862.2 221.4,866.3 226.9,869.0 233.7,870.7 238.9,870.4 244.0,871.4 248.1,869.7 252.6,872.1 256.0,870.7 262.9,870.7" fill="none" stroke="#000" stroke-width="1.95" stroke-linejoin="round"/>
<polyline points="133.3,857.0 140.9,856.0 147.7,859.4 156.3,861.8 164.8,862.2 171.7,860.8 178.6,862.2 185.4,865.6 192.3,866.3 198.4,862.8 203.2,855.3 207.0,851.9 210.4,857.7 215.6,865.6 219.5,868.2 223.7,870.2 230.6,872.2 237.4,873.3 244.3,873.6 251.1,872.9 256.3,873.6 263.1,873.3" fill="none" stroke="#000" stroke-width="1.95" stroke-dasharray="6.4,3.1" stroke-linejoin="round"/>
<polyline points="133.3,871.4 139.1,870.4 147.7,872.1 161.4,871.4 175.1,871.4 185.4,873.1 199.1,872.4 204.3,869.0 207.0,867.3 211.1,869.7 218.0,872.4 228.3,874.2 230.3,875.9 240.6,876.6 254.3,876.6 262.9,875.9" fill="none" stroke="#000" stroke-width="1.95" stroke-dasharray="1.6,1.6" stroke-linejoin="round"/>
<rect x="46.9" y="785.3" width="67.4" height="42.7" fill="#fff" stroke="#5a5a5a" stroke-width="1"/>
<line x1="53.0" y1="791.0" x2="70.5" y2="791.0" stroke="#000" stroke-width="1.95"/>
<text x="73.6" y="793.9" font-size="8.1">0-40 cm</text>
<line x1="53.0" y1="805.2" x2="70.5" y2="805.2" stroke="#000" stroke-width="1.95" stroke-dasharray="6,5.8"/>
<text x="73.6" y="808.1" font-size="8.1">10-40 cm</text>
<line x1="53.0" y1="820.0" x2="70.5" y2="820.0" stroke="#000" stroke-width="1.95" stroke-dasharray="1.45,1.2"/>
<text x="73.6" y="822.9" font-size="8.1">25-40 cm</text>
<text transform="translate(10.7,834.0) rotate(-90)" text-anchor="middle" font-size="11.7" font-weight="bold">Water in the soil (mm)</text>
<text x="175.0" y="908.5" text-anchor="middle" font-size="11.7" font-weight="bold">Days from sowing</text>
</g>
</svg></body></html>
